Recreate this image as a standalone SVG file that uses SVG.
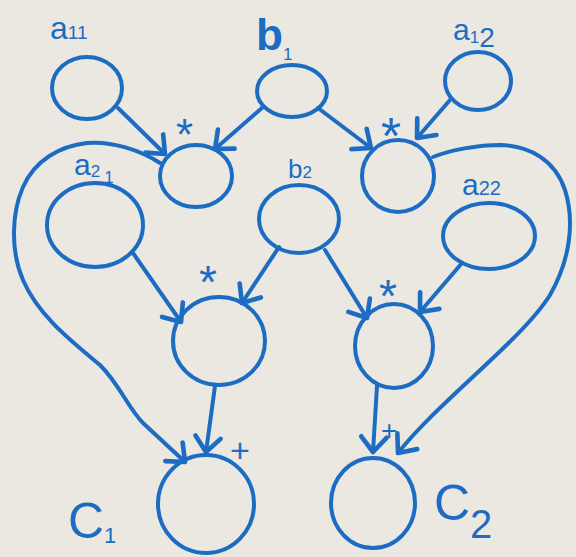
<svg xmlns="http://www.w3.org/2000/svg" width="576" height="557" viewBox="0 0 576 557">
  <style>
    .n { fill: none; stroke: #1c6cc4; stroke-width: 4; }
    .e { fill: none; stroke: #1c6cc4; stroke-width: 4; stroke-linecap: round; stroke-linejoin: round; marker-end: url(#arr); }
    .t { font-family: "Liberation Sans", "DejaVu Sans", sans-serif; fill: #1c6cc4; }
    .s { font-size: 17px; }
  </style>
  <defs>
    <marker id="arr" markerUnits="userSpaceOnUse" markerWidth="30" markerHeight="30" viewBox="-16 -13 20 26" refX="0" refY="0" orient="auto" overflow="visible">
      <path d="M-13,-11 L0,0 L-13,11" fill="none" stroke="#1c6cc4" stroke-width="4" stroke-linecap="round" stroke-linejoin="round"/>
    </marker>
  </defs>
  <rect x="0" y="0" width="576" height="557" fill="#ebe8e1"/>

  <g id="connectors">
    <path class="e" d="M118,108 L165,154"/>
    <path class="e" d="M263,107 L215,149"/>
    <path class="e" d="M318,108 L371,148"/>
    <path class="e" d="M450,100 L417,138"/>
    <path class="e" d="M133,253 L181,322"/>
    <path class="e" d="M279,247 L242,303"/>
    <path class="e" d="M325,250 L367,318"/>
    <path class="e" d="M462,263 L420,312"/>
    <path class="e" d="M215,386 L206,452"/>
    <path class="e" d="M377,386 L373,452"/>
    <path class="e" d="M160,163 C140,150 112,141 87,143 C60,146 35,160 23,187 C12,212 10,250 23,280 C38,315 70,340 100,365 C120,385 128,408 143,423 L185,462"/>
    <path class="e" d="M433,157 C450,150 478,145 500,145 C530,146 555,160 565,190 C575,222 570,260 550,295 C522,340 440,400 398,453"/>
  </g>

  <g id="a11">
    <ellipse class="n" cx="87" cy="88" rx="35" ry="31"/>
    <text class="t" x="50" y="39" font-size="32">a<tspan font-size="19">11</tspan></text>
  </g>
  <g id="b1">
    <ellipse class="n" cx="292" cy="91" rx="35" ry="26"/>
    <text class="t" x="256" y="50" font-size="44" font-weight="bold">b<tspan class="s" font-weight="normal" dy="10">1</tspan></text>
  </g>
  <g id="a12">
    <ellipse class="n" cx="478" cy="81" rx="33" ry="29"/>
    <text class="t" x="453" y="40" font-size="30">a<tspan font-size="17" dy="3">1</tspan><tspan font-size="28" dy="4">2</tspan></text>
  </g>
  <g id="mul1">
    <ellipse class="n" cx="196" cy="176" rx="36" ry="31"/>
    <text class="t" x="176" y="150" font-size="44">*</text>
  </g>
  <g id="mul2">
    <ellipse class="n" cx="398" cy="176" rx="36" ry="36"/>
    <text class="t" x="381" y="154" font-size="52">*</text>
  </g>
  <g id="a21">
    <ellipse class="n" cx="95" cy="225" rx="48" ry="42"/>
    <text class="t" x="74" y="175" font-size="30">a<tspan class="s" dy="2">2</tspan><tspan class="s" dx="4" dy="6">1</tspan></text>
  </g>
  <g id="b2">
    <ellipse class="n" cx="299" cy="219" rx="40" ry="34"/>
    <text class="t" x="288" y="178" font-size="26">b<tspan class="s">2</tspan></text>
  </g>
  <g id="a22">
    <ellipse class="n" cx="489" cy="236" rx="46" ry="33"/>
    <text class="t" x="462" y="195" font-size="30">a<tspan font-size="20">22</tspan></text>
  </g>
  <g id="mul3">
    <ellipse class="n" cx="219" cy="341" rx="46" ry="44"/>
    <text class="t" x="199" y="298" font-size="46">*</text>
  </g>
  <g id="mul4">
    <ellipse class="n" cx="394" cy="346" rx="39" ry="42"/>
    <text class="t" x="379" y="312" font-size="46">*</text>
  </g>
  <g id="c1">
    <ellipse class="n" cx="206" cy="504" rx="48" ry="49"/>
    <text class="t" x="230" y="462" font-size="34">+</text>
    <text class="t" x="68" y="538" font-size="50">C<tspan font-size="22" dy="5">1</tspan></text>
  </g>
  <g id="c2">
    <ellipse class="n" cx="373" cy="503" rx="42" ry="45"/>
    <text class="t" x="381" y="440" font-size="28">+</text>
    <text class="t" x="434" y="520" font-size="50">C<tspan font-size="40" dy="18">2</tspan></text>
  </g>
</svg>
